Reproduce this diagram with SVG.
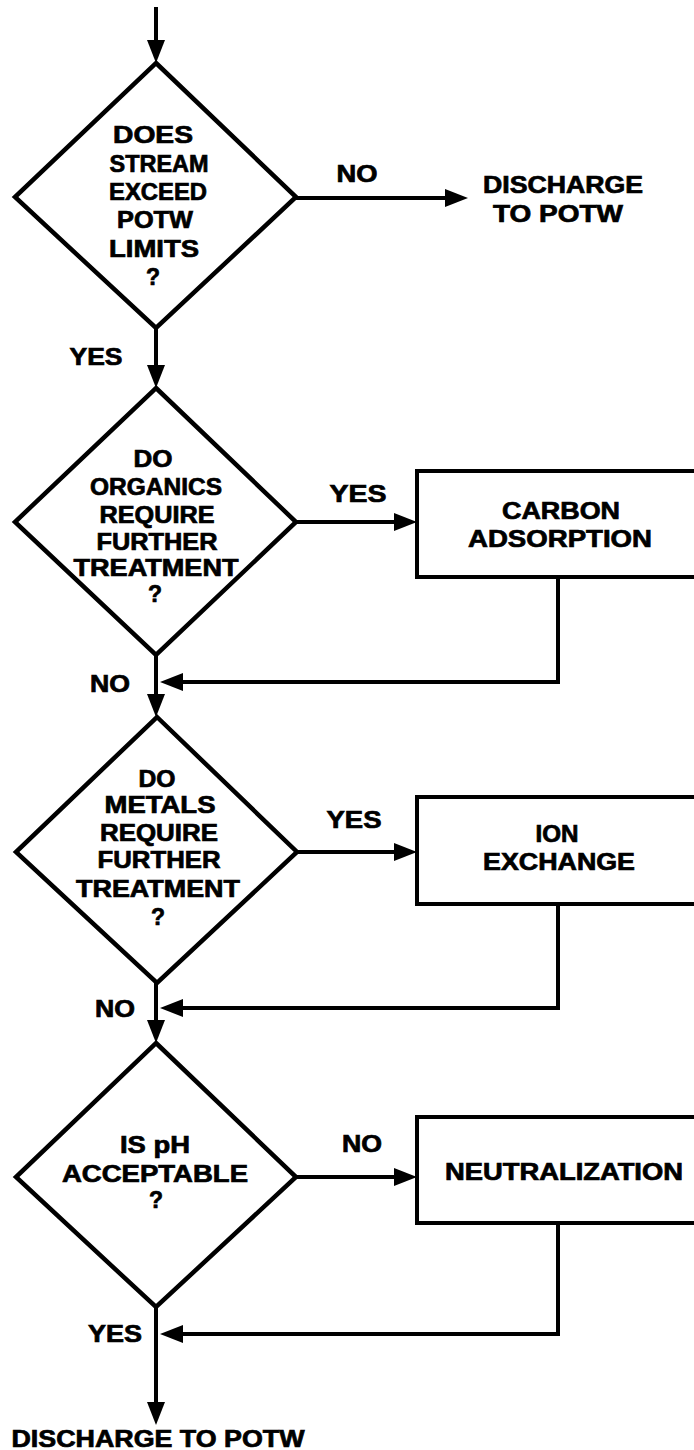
<svg xmlns="http://www.w3.org/2000/svg" width="694" height="1450" viewBox="0 0 694 1450">
<style>
  .dia { fill: #fff; stroke: #000; stroke-width: 4.5; stroke-linejoin: miter; }
  .box { fill: #fff; stroke: #000; stroke-width: 4; }
  .con { fill: none; stroke: #000; stroke-width: 4; marker-end: url(#ah); }
  text { font-family: "Liberation Sans", Arial, Helvetica, sans-serif; font-weight: bold; font-size: 23px; fill: #000; stroke: #000; stroke-width: 0.7; text-anchor: middle; }
</style>
<defs>
  <marker id="ah" markerUnits="userSpaceOnUse" viewBox="0 0 23 18" markerWidth="23" markerHeight="18" refX="15" refY="9" orient="auto">
    <path d="M0,0 L23,9 L0,18 z" fill="#000"/>
  </marker>
</defs>
<rect width="694" height="1450" fill="#fff"/>

<g id="connectors">
  <path class="con" d="M156,7 V55"/>
  <path class="con" d="M295,198 H460"/>
  <path class="con" d="M156,328 V380"/>
  <path class="con" d="M295,522 H409"/>
  <path class="con" d="M558,577 V682 H168"/>
  <path class="con" d="M156,655 V709"/>
  <path class="con" d="M295,852 H409"/>
  <path class="con" d="M558,904 V1008 H168"/>
  <path class="con" d="M156,983 V1035"/>
  <path class="con" d="M295,1177 H409"/>
  <path class="con" d="M558,1223 V1334 H168"/>
  <path class="con" d="M156,1307 V1417"/>
</g>

<g id="labels">
  <text x="357" y="182" textLength="41" lengthAdjust="spacingAndGlyphs">NO</text>
  <text x="96" y="365" textLength="53" lengthAdjust="spacingAndGlyphs">YES</text>
  <text x="358" y="502" textLength="57" lengthAdjust="spacingAndGlyphs">YES</text>
  <text x="110" y="692" textLength="40" lengthAdjust="spacingAndGlyphs">NO</text>
  <text x="354" y="828" textLength="55" lengthAdjust="spacingAndGlyphs">YES</text>
  <text x="115" y="1017" textLength="40" lengthAdjust="spacingAndGlyphs">NO</text>
  <text x="362" y="1152" textLength="40" lengthAdjust="spacingAndGlyphs">NO</text>
  <text x="115" y="1342" textLength="54" lengthAdjust="spacingAndGlyphs">YES</text>
</g>

<g id="discharge1">
  <text x="563" y="193" textLength="160" lengthAdjust="spacingAndGlyphs">DISCHARGE</text>
  <text x="558" y="222" textLength="130" lengthAdjust="spacingAndGlyphs">TO  POTW</text>
</g>

<g id="decision1">
  <polygon class="dia" points="156,63 296,197 156,328 15,197"/>
  <text x="153" y="143" textLength="80" lengthAdjust="spacingAndGlyphs">DOES</text>
  <text x="159" y="172" textLength="99" lengthAdjust="spacingAndGlyphs">STREAM</text>
  <text x="158" y="200" textLength="98" lengthAdjust="spacingAndGlyphs">EXCEED</text>
  <text x="155" y="228" textLength="76" lengthAdjust="spacingAndGlyphs">POTW</text>
  <text x="154" y="257" textLength="90" lengthAdjust="spacingAndGlyphs">LIMITS</text>
  <text x="153" y="285">?</text>
</g>

<g id="decision2">
  <polygon class="dia" points="156,388 296,522 156,655 15,522"/>
  <text x="153" y="467" textLength="39" lengthAdjust="spacingAndGlyphs">DO</text>
  <text x="156" y="495" textLength="132" lengthAdjust="spacingAndGlyphs">ORGANICS</text>
  <text x="157" y="523" textLength="115" lengthAdjust="spacingAndGlyphs">REQUIRE</text>
  <text x="157" y="550" textLength="121" lengthAdjust="spacingAndGlyphs">FURTHER</text>
  <text x="156" y="576" textLength="165" lengthAdjust="spacingAndGlyphs">TREATMENT</text>
  <text x="155" y="602">?</text>
</g>

<g id="carbon">
  <rect class="box" x="417" y="471" width="300" height="106"/>
  <text x="561" y="519" textLength="118" lengthAdjust="spacingAndGlyphs">CARBON</text>
  <text x="560" y="547" textLength="184" lengthAdjust="spacingAndGlyphs">ADSORPTION</text>
</g>

<g id="decision3">
  <polygon class="dia" points="157,717 297,852 157,983 16,852"/>
  <text x="157" y="787" textLength="37" lengthAdjust="spacingAndGlyphs">DO</text>
  <text x="160" y="813" textLength="111" lengthAdjust="spacingAndGlyphs">METALS</text>
  <text x="159" y="841" textLength="118" lengthAdjust="spacingAndGlyphs">REQUIRE</text>
  <text x="159" y="868" textLength="123" lengthAdjust="spacingAndGlyphs">FURTHER</text>
  <text x="158" y="897" textLength="164" lengthAdjust="spacingAndGlyphs">TREATMENT</text>
  <text x="158" y="925">?</text>
</g>

<g id="ionexchange">
  <rect class="box" x="417" y="797" width="300" height="107"/>
  <text x="557" y="842" textLength="43" lengthAdjust="spacingAndGlyphs">ION</text>
  <text x="559" y="870" textLength="152" lengthAdjust="spacingAndGlyphs">EXCHANGE</text>
</g>

<g id="decision4">
  <polygon class="dia" points="156,1043 296,1177 156,1307 16,1177"/>
  <text x="155" y="1153" textLength="70" lengthAdjust="spacingAndGlyphs">IS pH</text>
  <text x="155" y="1182" textLength="186" lengthAdjust="spacingAndGlyphs">ACCEPTABLE</text>
  <text x="156" y="1208">?</text>
</g>

<g id="neutralization">
  <rect class="box" x="417" y="1117" width="300" height="106"/>
  <text x="564" y="1180" textLength="238" lengthAdjust="spacingAndGlyphs">NEUTRALIZATION</text>
</g>

<g id="discharge2">
  <text x="158" y="1447" textLength="293" lengthAdjust="spacingAndGlyphs">DISCHARGE  TO  POTW</text>
</g>
</svg>
